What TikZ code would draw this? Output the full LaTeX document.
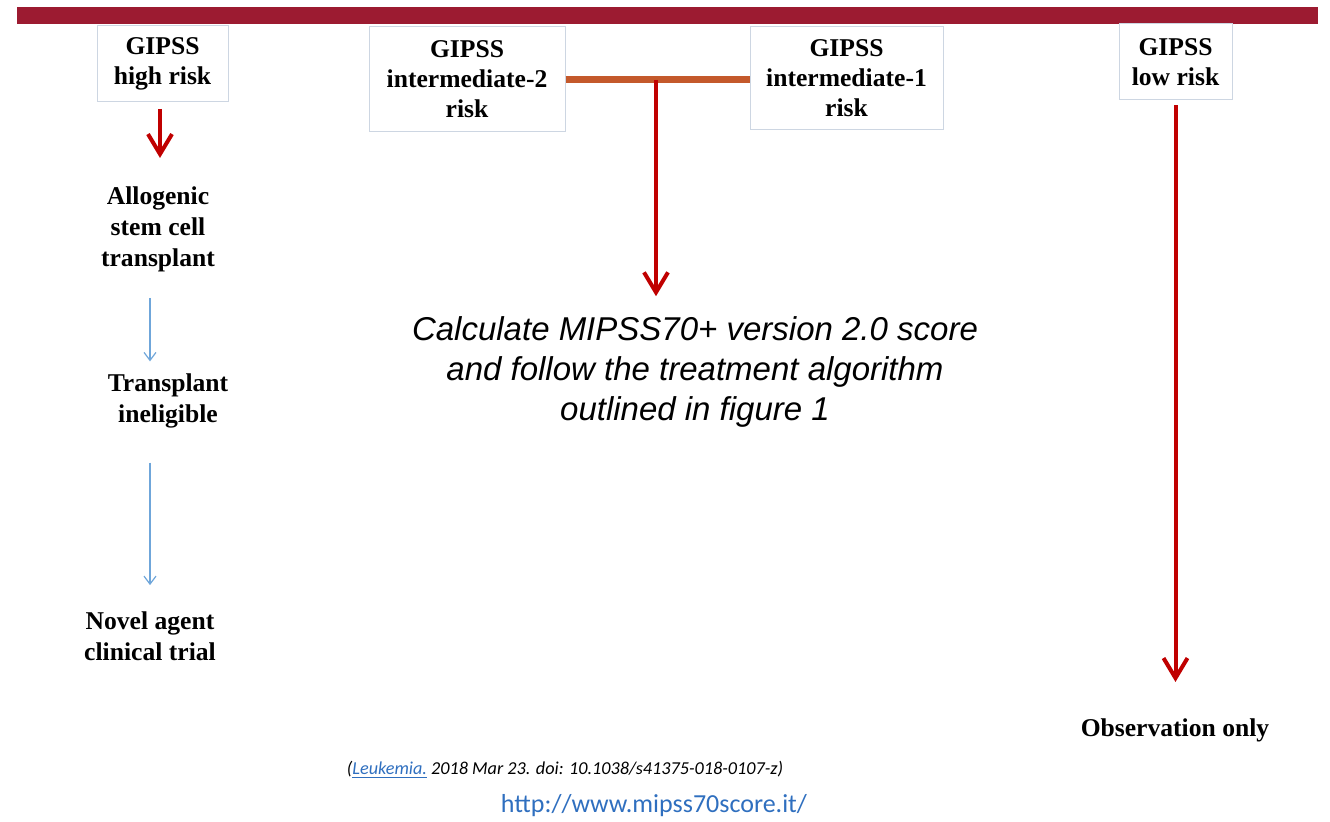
\documentclass[tikz,border=0pt]{standalone}
\usepackage{xcolor}
\usepackage{fontspec}
\setmainfont{Liberation Serif}
\newfontfamily\calcfont{Liberation Sans}
\newfontfamily\citefont{Carlito}
\usetikzlibrary{arrows.meta}

\definecolor{barred}{HTML}{9C1B31}
\definecolor{arrowred}{HTML}{C00000}
\definecolor{teeorange}{HTML}{C4592B}
\definecolor{boxline}{HTML}{CDD6E2}
\definecolor{thinblue}{HTML}{6FA6DA}
\definecolor{linkblue}{HTML}{2F6FBF}

\tikzset{
  riskbox/.style={draw=boxline, line width=0.5pt, align=center, inner sep=0pt,
    font=\bfseries\fontsize{12.8}{15}\selectfont},
  stepnote/.style={align=center, inner sep=0pt, font=\bfseries\fontsize{12.8}{15.5}\selectfont},
  redarrow/.style={draw=arrowred, line width=2pt, -{Straight Barb[length=10pt,width=12pt]}},
  bluearrow/.style={draw=thinblue, line width=0.6pt, -{Straight Barb[length=4pt,width=6pt]}},
}

\begin{document}
\begin{tikzpicture}[x=0.5pt,y=-0.5pt]
\useasboundingbox (0,0) rectangle (1330,822);

% top bar
\fill[barred] (17,7) rectangle (1318,24);

% GIPSS boxes
\node[riskbox, minimum width=65.5pt, minimum height=38pt] (high) at (162.5,63.5) {GIPSS\\high risk};
\node[riskbox, minimum width=98pt, minimum height=52.5pt] (inttwo) at (467,79.5) {GIPSS\\intermediate-2\\risk};
\node[riskbox, minimum width=96.5pt, minimum height=51.5pt] (intone) at (846.5,78.5) {GIPSS\\intermediate-1\\risk};
\node[riskbox, minimum width=56.5pt, minimum height=38pt] (low) at (1175.5,62) {GIPSS\\low risk};

% high risk branch
\node[stepnote] (allo) at (158,229) {Allogenic\\stem cell\\transplant};
\node[stepnote] (inelig) at (168,401) {Transplant\\ineligible};
\node[stepnote] (novel) at (150,636) {Novel agent\\clinical trial};

\draw[redarrow, shorten <=3.5pt, shorten >=14pt] (high.south -| 160,0) -- (allo.north -| 160,0);
\draw[bluearrow, shorten <=13pt, shorten >=6pt] (allo.south -| novel) -- (inelig.north -| novel);
\draw[bluearrow, shorten <=17pt, shorten >=13pt] (inelig.south -| novel) -- (novel.north);

% intermediate risk: joined by the tee
\draw[teeorange, line width=3.5pt] (inttwo.east) -- (inttwo.east -| intone.west);
\coordinate (tee) at (656,80);

\node[align=center, inner sep=0pt, font=\calcfont\itshape\fontsize{16.5}{20}\selectfont] (calc) at (695,372)
  {Calculate MIPSS70+ version 2.0 score\\and follow the treatment algorithm\\outlined in figure 1};
\draw[redarrow, shorten >=10pt] (tee) -- (tee |- calc.north);

% low risk branch
\node[stepnote] (obs) at (1175,730) {Observation only};
\draw[redarrow, shorten <=2.5pt, shorten >=18pt] (low.south) -- (low.south |- obs.north);

% reference
\node[inner sep=0pt, font=\citefont\itshape\fontsize{9.1}{11}\selectfont] (cite) at (565,770)
  {(\textcolor{linkblue}{\underline{Leukemia.}} 2018 Mar 23. doi: 10.1038/s41375-018-0107-z)};
\node[inner sep=0pt, text=linkblue, font=\citefont\fontsize{13}{15}\selectfont] (url) at (654,806)
  {http://www.mipss70score.it/};
\end{tikzpicture}
\end{document}
